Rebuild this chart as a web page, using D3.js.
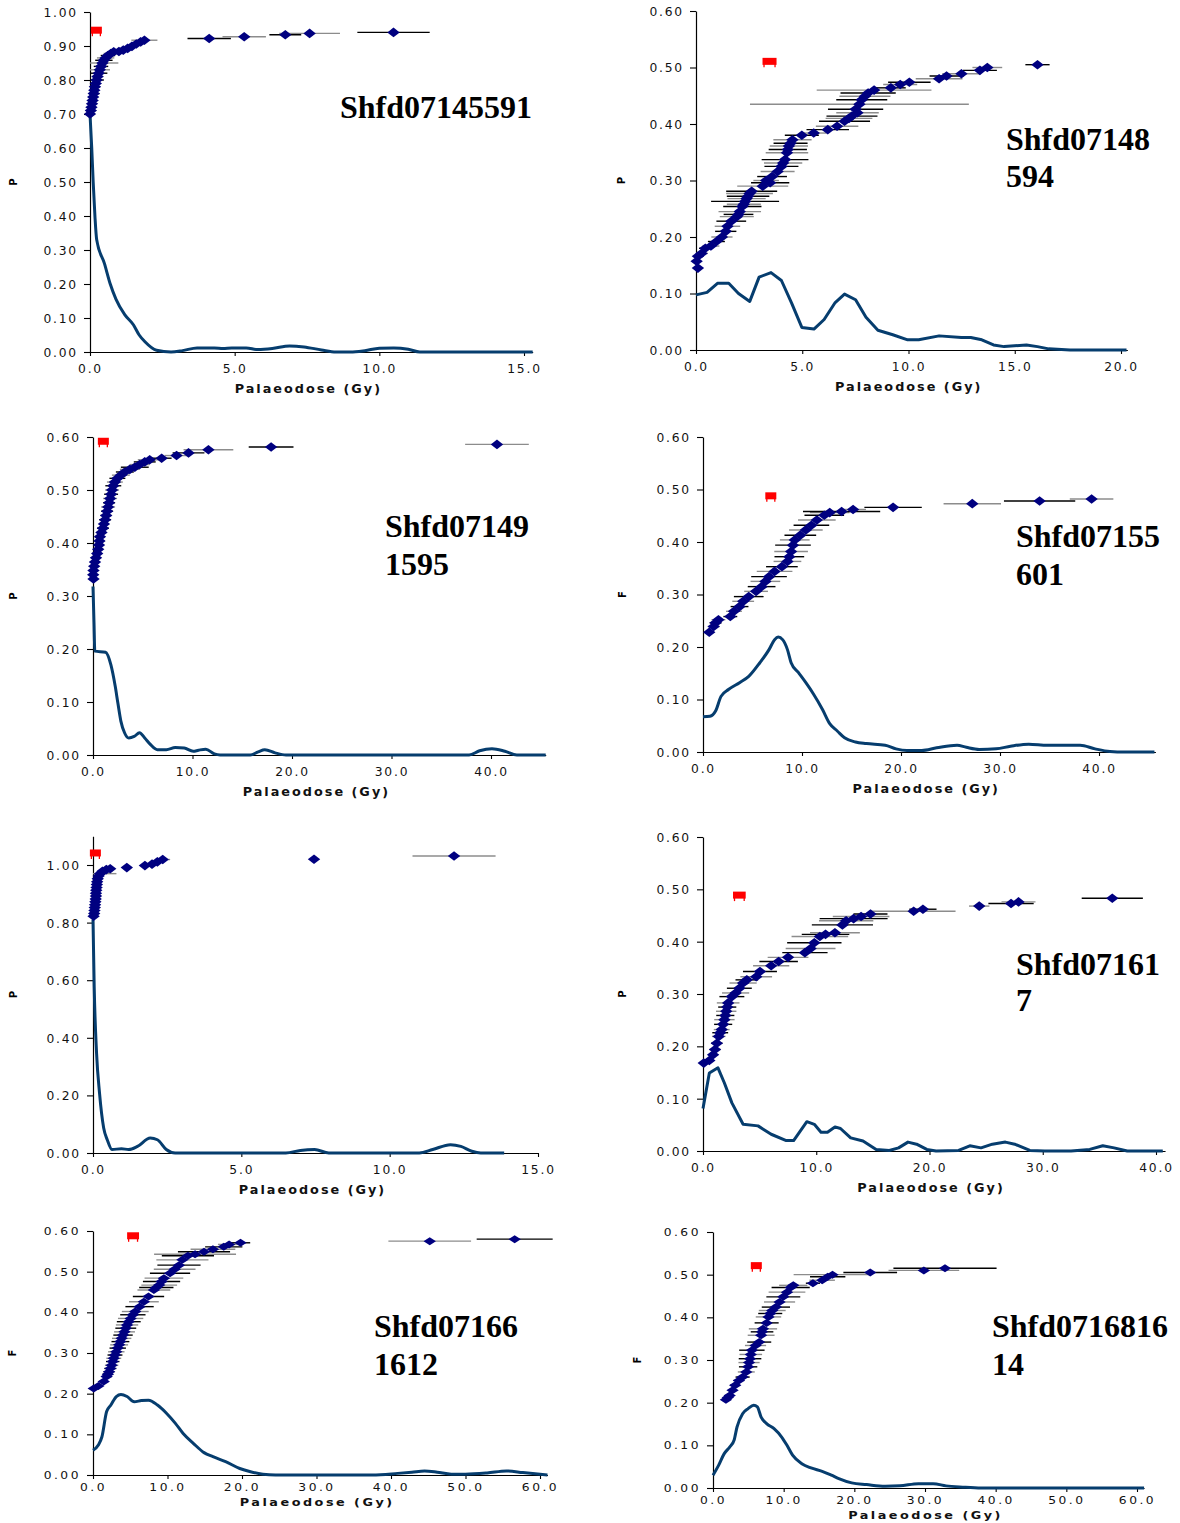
<!DOCTYPE html>
<html><head><meta charset="utf-8">
<script src="https://cdn.jsdelivr.net/npm/d3@7/dist/d3.min.js"></script>
<style>html,body{margin:0;padding:0;background:#fff}svg{display:block}</style>
</head><body>
<svg id="chart" width="1180" height="1523"></svg>
<script>
// ---------------- DATA ----------------
const sampleTitles = [["Shfd07145591"],["Shfd07148","594"],["Shfd07149","1595"],["Shfd07155","601"],[],["Shfd07161","7"],["Shfd07166","1612"],["Shfd0716816","14"]];
const yLabels = ["P","P","P","F","P","P","F","F"];
const xTitle = "Palaeodose (Gy)";

const xTicks1 = [0,5,10,15], xTicks2 = [0,5,10,15,20], xTicks3 = [0,10,20,30,40], xTicks4 = [0,10,20,30,40],
      xTicks5 = [0,5,10,15], xTicks6 = [0,10,20,30,40], xTicks7 = [0,10,20,30,40,50,60], xTicks8 = [0,10,20,30,40,50,60];
const yTicksA = [0,0.1,0.2,0.3,0.4,0.5,0.6,0.7,0.8,0.9,1.0];
const yTicksB = [0,0.1,0.2,0.3,0.4,0.5,0.6];
const yTicksC = [0,0.2,0.4,0.6,0.8,1.0];

// points: [dose (Gy), F, error (Gy)]
const p1Points = [[0.00,0.700,0.05],[0.03,0.710,0.10],[0.05,0.720,0.08],[0.07,0.730,0.12],[0.09,0.740,0.15],[0.11,0.750,0.10],[0.13,0.760,0.20],[0.15,0.770,0.12],[0.17,0.780,0.18],[0.20,0.790,0.15],[0.23,0.800,0.25],[0.26,0.810,0.20],[0.30,0.820,0.30],[0.34,0.830,0.35],[0.38,0.840,0.25],[0.43,0.850,0.55],[0.48,0.858,0.30],[0.54,0.865,0.30],[0.62,0.872,0.25],[0.72,0.878,0.25],[0.82,0.883,0.20],[1.00,0.884,0.10],[1.15,0.888,0.10],[1.30,0.893,0.10],[1.45,0.899,0.10],[1.60,0.906,0.15],[1.75,0.912,0.15],[1.88,0.917,0.45],[4.12,0.922,0.75],[5.33,0.927,0.75],[6.75,0.933,0.55],[7.59,0.937,1.05],[10.49,0.940,1.25]];
const p2Points = [[0.09,0.145,0.10],[0.03,0.157,0.20],[0.09,0.166,0.25],[0.26,0.171,0.30],[0.44,0.180,0.30],[0.70,0.184,0.40],[0.96,0.192,0.40],[1.22,0.200,0.50],[1.40,0.210,0.50],[1.48,0.219,0.60],[1.66,0.228,0.70],[1.92,0.236,0.80],[2.00,0.240,0.70],[2.06,0.245,1.00],[2.18,0.254,0.90],[2.25,0.258,0.80],[2.31,0.263,1.60],[2.38,0.268,0.90],[2.45,0.272,1.00],[2.52,0.277,1.10],[2.62,0.281,1.20],[3.14,0.290,1.20],[3.49,0.296,0.90],[3.30,0.300,0.60],[3.58,0.307,0.70],[3.84,0.316,0.80],[4.02,0.325,0.80],[4.10,0.331,0.90],[4.19,0.337,1.10],[4.28,0.349,1.00],[4.32,0.355,0.90],[4.37,0.361,0.90],[4.45,0.366,0.80],[4.54,0.372,0.90],[4.98,0.380,0.80],[5.54,0.384,0.60],[6.20,0.390,1.00],[6.64,0.396,1.00],[6.99,0.405,1.20],[7.20,0.410,1.10],[7.34,0.414,1.20],[7.60,0.420,1.00],[7.51,0.426,1.30],[7.69,0.435,5.15],[7.80,0.443,1.20],[7.95,0.449,1.20],[8.10,0.455,1.30],[8.38,0.460,2.70],[9.17,0.464,0.70],[9.61,0.470,0.80],[10.04,0.474,1.00],[11.44,0.480,1.10],[11.79,0.485,0.80],[12.49,0.489,0.90],[13.36,0.495,0.80],[13.71,0.500,0.70],[16.07,0.505,0.57]];
const p3Points = [[0.05,0.332,0.2],[0.02,0.340,0.3],[0.05,0.348,0.3],[0.12,0.356,0.4],[0.20,0.364,0.3],[0.30,0.372,0.4],[0.42,0.380,0.4],[0.52,0.388,0.5],[0.60,0.396,0.4],[0.65,0.404,0.5],[0.70,0.412,0.5],[0.85,0.420,0.5],[1.00,0.428,0.6],[1.10,0.436,0.5],[1.22,0.444,0.6],[1.32,0.452,0.6],[1.42,0.460,0.6],[1.52,0.468,0.7],[1.62,0.476,0.6],[1.72,0.484,0.7],[1.82,0.492,0.7],[1.92,0.500,0.7],[2.04,0.508,0.8],[2.20,0.515,0.8],[2.45,0.522,0.8],[2.80,0.528,0.9],[3.20,0.534,0.9],[3.70,0.539,1.0],[4.20,0.543,1.4],[4.70,0.548,1.0],[5.20,0.553,1.1],[5.70,0.557,1.2],[6.90,0.560,1.0],[8.40,0.565,1.2],[9.60,0.570,1.6],[11.60,0.576,2.5],[17.90,0.581,2.25],[40.60,0.586,3.2]];
const p4Points = [[0.63,0.228,0.5],[1.08,0.239,0.6],[1.27,0.246,0.6],[1.56,0.252,0.7],[2.76,0.258,0.7],[3.13,0.268,0.8],[3.69,0.277,0.9],[4.06,0.287,1.1],[4.62,0.296,1.5],[5.36,0.306,1.2],[5.92,0.315,1.4],[6.30,0.325,1.5],[6.67,0.334,1.8],[7.23,0.344,1.8],[7.97,0.353,1.6],[8.53,0.363,1.4],[8.72,0.372,1.5],[8.90,0.382,1.7],[9.09,0.394,1.8],[9.27,0.404,1.5],[9.83,0.413,1.6],[10.39,0.423,1.7],[10.95,0.432,1.8],[11.50,0.442,1.9],[12.25,0.451,2.0],[12.80,0.456,2.0],[14.00,0.458,3.9],[15.16,0.462,1.3],[19.20,0.466,2.9],[27.20,0.473,2.9],[34.00,0.478,3.6],[39.25,0.482,2.2]];
const p5Points = [[0.02,0.822,0.03],[0.04,0.832,0.05],[0.05,0.842,0.04],[0.06,0.852,0.05],[0.07,0.862,0.06],[0.08,0.872,0.05],[0.09,0.882,0.06],[0.10,0.892,0.05],[0.10,0.902,0.07],[0.11,0.912,0.06],[0.12,0.922,0.07],[0.13,0.932,0.06],[0.14,0.942,0.08],[0.16,0.952,0.07],[0.19,0.962,0.10],[0.24,0.970,0.55],[0.32,0.978,0.12],[0.45,0.984,0.12],[0.58,0.987,0.10],[1.14,0.991,0.10],[1.75,0.998,0.10],[1.99,1.003,0.12],[2.17,1.011,0.15],[2.35,1.019,0.25],[7.45,1.020,0.10],[12.17,1.031,1.40]];
const p6Points = [[0.07,0.168,0.2],[0.56,0.173,0.3],[0.89,0.184,0.4],[1.06,0.194,0.5],[1.22,0.206,0.5],[1.39,0.219,0.6],[1.52,0.226,0.7],[1.65,0.232,0.7],[1.78,0.242,0.8],[1.89,0.251,0.9],[1.97,0.259,0.8],[2.05,0.267,0.9],[2.14,0.275,0.8],[2.22,0.283,1.0],[2.55,0.295,1.1],[2.88,0.302,1.2],[3.21,0.311,1.1],[3.54,0.321,1.2],[3.87,0.327,1.0],[4.70,0.333,1.4],[5.03,0.343,1.5],[6.02,0.354,1.6],[6.68,0.362,1.7],[7.51,0.370,1.8],[9.00,0.379,2.0],[9.50,0.387,2.2],[9.83,0.398,2.4],[10.32,0.410,2.5],[10.82,0.414,2.1],[11.65,0.417,2.2],[12.31,0.432,2.7],[12.64,0.440,2.4],[13.30,0.444,3.0],[13.96,0.448,2.5],[14.79,0.453,1.5],[18.60,0.458,3.7],[19.42,0.462,1.2],[24.39,0.468,0.9],[27.20,0.473,2.0],[27.86,0.476,1.5],[36.14,0.483,2.7]];
const p7Points = [[0.10,0.213,0.4],[0.72,0.219,0.5],[1.44,0.230,0.6],[1.83,0.242,0.7],[2.00,0.248,0.7],[2.16,0.254,0.8],[2.33,0.262,0.8],[2.50,0.270,0.9],[2.65,0.279,0.9],[2.79,0.287,1.0],[2.95,0.295,1.0],[3.13,0.303,1.1],[3.32,0.312,1.1],[3.51,0.320,1.2],[3.68,0.328,1.2],[3.85,0.336,1.3],[4.03,0.344,1.3],[4.23,0.352,1.4],[4.40,0.361,1.4],[4.57,0.369,1.5],[4.80,0.377,1.6],[5.05,0.385,1.7],[5.35,0.394,1.7],[5.67,0.402,1.8],[6.25,0.414,1.9],[6.83,0.426,2.0],[7.45,0.439,2.1],[8.17,0.455,2.2],[8.50,0.461,2.3],[8.89,0.467,2.4],[9.20,0.476,2.5],[9.52,0.484,2.6],[10.34,0.496,2.7],[10.96,0.506,2.8],[11.54,0.516,2.9],[12.00,0.529,3.5],[12.74,0.539,3.5],[13.70,0.543,5.5],[14.90,0.549,3.5],[16.10,0.555,3.0],[17.55,0.561,2.5],[18.27,0.567,1.5],[19.80,0.571,1.3],[45.20,0.575,5.55],[56.60,0.580,5.1]];
const p8Points = [[1.83,0.207,0.3],[2.10,0.212,0.4],[2.36,0.217,0.5],[2.77,0.229,0.6],[3.14,0.241,0.7],[3.66,0.252,0.8],[4.19,0.260,1.0],[4.71,0.272,1.2],[4.97,0.284,1.3],[5.10,0.294,1.5],[5.24,0.303,1.6],[5.35,0.313,1.6],[5.50,0.323,1.8],[6.02,0.334,1.5],[6.54,0.342,1.7],[6.81,0.358,1.9],[6.94,0.366,1.6],[7.07,0.373,2.0],[7.59,0.387,1.7],[7.85,0.401,1.8],[8.10,0.409,1.7],[8.38,0.416,1.9],[8.90,0.424,2.0],[9.42,0.436,2.2],[9.95,0.448,2.4],[10.47,0.459,2.6],[10.99,0.470,2.7],[11.36,0.475,2.0],[14.14,0.480,1.0],[15.45,0.487,1.8],[16.23,0.495,2.5],[16.91,0.500,5.5],[22.25,0.505,3.8],[29.84,0.510,5.0],[32.83,0.515,7.3]];

// red markers: [dose, F, error]
const p1Red = [0.22,0.945,0.17], p2Red = [3.46,0.510,0.33], p3Red = [1.04,0.591,0.55], p4Red = [6.85,0.487,0.55],
      p5Red = [0.08,1.040,0.18], p6Red = [3.21,0.488,0.56], p7Red = [5.38,0.587,0.80], p8Red = [6.13,0.520,0.76];

// probability density curves: [dose, P]
const p1Density = [[0,0.70],[0.06,0.60],[0.11,0.50],[0.17,0.40],[0.23,0.331],[0.5,0.26],[0.7,0.20],[0.9,0.155],[1.2,0.11],[1.5,0.08],[1.7,0.05],[1.9,0.03],[2.3,0.005],[2.8,0],[3.2,0.004],[3.7,0.012],[4.3,0.012],[4.6,0.01],[4.9,0.012],[5.4,0.012],[5.8,0.007],[6.3,0.01],[6.9,0.018],[7.4,0.015],[8.0,0.006],[8.5,0],[9.0,0],[9.5,0.004],[10.0,0.011],[10.5,0.012],[11.0,0.008],[11.4,0],[15.3,0]];
const p2Density = [[0,0.0975],[0.52,0.102],[1.01,0.118],[1.54,0.118],[2.0,0.1],[2.53,0.086],[2.97,0.129],[3.53,0.137],[4.02,0.123],[4.5,0.083],[4.98,0.040],[5.55,0.037],[6.03,0.054],[6.55,0.084],[6.99,0.099],[7.51,0.089],[8.0,0.058],[8.56,0.035],[9.26,0.027],[9.96,0.018],[10.48,0.018],[11.44,0.025],[12.49,0.022],[12.93,0.022],[13.45,0.018],[14.0,0.009],[14.5,0.006],[15.55,0.009],[16.07,0.006],[16.6,0.002],[17.6,0],[20.26,0]];
const p3Density = [[0,0.318],[0.1,0.25],[0.18,0.196],[1.26,0.194],[1.8,0.17],[2.23,0.13],[2.5,0.098],[2.8,0.064],[3.17,0.042],[3.6,0.032],[4.14,0.035],[4.68,0.042],[5.2,0.032],[5.76,0.02],[6.47,0.01],[7.37,0.01],[8.27,0.014],[9.17,0.013],[10.07,0.007],[10.6,0.009],[11.33,0.011],[12.2,0.002],[12.77,0],[15.8,0],[16.6,0.006],[17.27,0.01],[18.3,0.004],[19.4,0],[37.8,0],[38.85,0.008],[40.1,0.012],[41.4,0.007],[42.6,0],[45.5,0]];
const p4Density = [[0,0.067],[0.7,0.068],[1.27,0.078],[1.82,0.106],[2.57,0.119],[3.69,0.132],[4.62,0.144],[5.74,0.17],[6.67,0.195],[7.23,0.214],[7.6,0.219],[8.04,0.214],[8.53,0.195],[8.9,0.17],[9.65,0.151],[10.39,0.132],[11.14,0.111],[12.07,0.081],[12.8,0.054],[13.56,0.04],[14.3,0.027],[15.4,0.019],[16.5,0.016],[18.4,0.013],[19.5,0.006],[20.6,0.003],[22.1,0.003],[23.6,0.008],[25.66,0.013],[26.6,0.009],[27.9,0.005],[29.6,0.006],[31.06,0.011],[32.9,0.015],[34.8,0.013],[38.1,0.013],[39.6,0.006],[41.1,0.001],[42.6,0],[45.6,0]];
const p5Density = [[0,0.81],[0.04,0.578],[0.12,0.347],[0.22,0.208],[0.36,0.087],[0.48,0.046],[0.64,0.012],[0.96,0.015],[1.2,0.012],[1.5,0.023],[1.93,0.052],[2.17,0.046],[2.47,0.012],[2.77,0],[6.5,0],[6.99,0.009],[7.47,0.012],[7.95,0],[11.0,0],[11.45,0.012],[12.05,0.029],[12.4,0.023],[12.77,0.006],[13.07,0],[13.86,0]];
const p6Density = [[0,0.081],[0.56,0.149],[1.32,0.159],[1.89,0.13],[2.55,0.092],[3.54,0.051],[4.86,0.048],[6.02,0.032],[7.35,0.02],[8.0,0.02],[9.17,0.056],[9.83,0.051],[10.42,0.036],[10.99,0.036],[11.65,0.046],[12.14,0.043],[13.04,0.025],[14.13,0.019],[15.29,0.003],[16.45,0.001],[17.27,0.006],[18.1,0.017],[18.86,0.013],[19.76,0.003],[20.58,0],[22.57,0.001],[23.56,0.01],[24.55,0.006],[25.55,0.013],[26.7,0.017],[27.53,0.013],[28.86,0.001],[30.18,0],[32.5,0],[34.15,0.003],[35.3,0.01],[36.3,0.006],[37.46,0],[40.6,0]];
const p7Density = [[0,0.061],[0.72,0.074],[1.2,0.094],[1.83,0.156],[2.4,0.172],[3.13,0.193],[3.75,0.198],[4.57,0.193],[5.53,0.18],[6.5,0.183],[7.45,0.184],[8.65,0.172],[9.86,0.152],[11.06,0.127],[12.1,0.102],[13.46,0.078],[14.9,0.055],[16.1,0.045],[17.8,0.033],[19.7,0.016],[21.15,0.008],[22.8,0.002],[24.5,0],[37.5,0],[40.9,0.004],[42.8,0.007],[44.5,0.01],[46.2,0.007],[48.1,0.002],[50,0.002],[52.9,0.005],[55.5,0.01],[57.7,0.006],[61,0]];
const p8Density = [[0,0.03],[0.79,0.053],[1.57,0.08],[2.36,0.096],[2.98,0.112],[3.4,0.143],[4.19,0.174],[4.97,0.186],[5.76,0.194],[6.28,0.19],[6.81,0.166],[7.59,0.151],[8.64,0.139],[9.69,0.12],[10.47,0.1],[11.26,0.077],[12.57,0.057],[13.87,0.047],[15.45,0.039],[16.75,0.03],[17.8,0.022],[19.63,0.012],[21.73,0.008],[24.35,0.004],[26.44,0.005],[29.06,0.01],[31.15,0.01],[32.98,0.005],[35.34,0.002],[37.96,0],[61,0]];

// ---------------- LAYOUT ----------------
const layout = [
  {left:90,  xEnd:15, xEndPx:524,  xMax:15.3, bottom:352,  yEnd:1.0, yEndPx:12,   yMax:1.0, titleX:340,  titleY:[118],       ylabX:14,  sy:1},
  {left:696, xEnd:20, xEndPx:1121, xMax:20.3, bottom:350,  yEnd:0.6, yEndPx:11,   yMax:0.6, titleX:1006, titleY:[150,187],   ylabX:622, sy:1},
  {left:93,  xEnd:40, xEndPx:491,  xMax:45.5, bottom:755,  yEnd:0.6, yEndPx:437,  yMax:0.6, titleX:385,  titleY:[537,575],   ylabX:14,  sy:1},
  {left:703, xEnd:40, xEndPx:1099, xMax:45.7, bottom:752,  yEnd:0.6, yEndPx:437,  yMax:0.6, titleX:1016, titleY:[547,585],   ylabX:623, sy:1},
  {left:93,  xEnd:15, xEndPx:538,  xMax:15.0, bottom:1153, yEnd:1.0, yEndPx:865,  yMax:1.1, titleX:0,    titleY:[],          ylabX:14,  sy:1},
  {left:703, xEnd:40, xEndPx:1156, xMax:40.8, bottom:1151, yEnd:0.6, yEndPx:837,  yMax:0.6, titleX:1016, titleY:[975,1011],  ylabX:623, sy:1},
  {left:93,  xEnd:60, xEndPx:540,  xMax:61,   bottom:1475, yEnd:0.6, yEndPx:1231, yMax:0.6, titleX:374,  titleY:[1337,1375], ylabX:13,  sy:0.8},
  {left:713, xEnd:60, xEndPx:1137, xMax:61,   bottom:1488, yEnd:0.6, yEndPx:1232, yMax:0.6, titleX:992,  titleY:[1337,1375], ylabX:638, sy:0.8}
];
const series = [
  {pts:p1Points, dens:p1Density, red:p1Red, xt:xTicks1, yt:yTicksA, linear:false},
  {pts:p2Points, dens:p2Density, red:p2Red, xt:xTicks2, yt:yTicksB, linear:true},
  {pts:p3Points, dens:p3Density, red:p3Red, xt:xTicks3, yt:yTicksB, linear:false},
  {pts:p4Points, dens:p4Density, red:p4Red, xt:xTicks4, yt:yTicksB, linear:false},
  {pts:p5Points, dens:p5Density, red:p5Red, xt:xTicks5, yt:yTicksC, linear:false},
  {pts:p6Points, dens:p6Density, red:p6Red, xt:xTicks6, yt:yTicksB, linear:true},
  {pts:p7Points, dens:p7Density, red:p7Red, xt:xTicks7, yt:yTicksB, linear:false},
  {pts:p8Points, dens:p8Density, red:p8Red, xt:xTicks8, yt:yTicksB, linear:false}
];

const svg = d3.select("#chart");
svg.append("rect").attr("width",1180).attr("height",1523).attr("fill","#fff");
const TICKFONT = "'DejaVu Sans', Verdana, sans-serif";

layout.forEach((L, i) => {
  const S = series[i];
  const kx = (L.xEndPx - L.left) / L.xEnd;
  const ky = (L.bottom - L.yEndPx) / L.yEnd;
  const x = d3.scaleLinear().domain([0, L.xMax]).range([L.left, L.left + kx * L.xMax]);
  const y = d3.scaleLinear().domain([0, L.yMax]).range([L.bottom, L.bottom - ky * L.yMax]);
  const g = svg.append("g");
  const sy = L.sy;

  // axes
  const ax = g.append("g").attr("transform", `translate(0,${L.bottom})`)
    .call(d3.axisBottom(x).tickValues(S.xt).tickFormat(d3.format(".1f")).tickSize(4).tickSizeOuter(0));
  const ay = g.append("g").attr("transform", `translate(${L.left},0)`)
    .call(d3.axisLeft(y).tickValues(S.yt).tickFormat(d3.format(".2f")).tickSize(6).tickSizeOuter(0));
  [ax, ay].forEach(a => {
    a.select(".domain").attr("stroke", "#000").attr("stroke-width", 1.2);
    a.selectAll(".tick line").attr("stroke", "#000").attr("stroke-width", 1.1);
    a.selectAll("text").attr("font-family", TICKFONT).attr("font-size", 12.3)
      .attr("letter-spacing", sy < 1 ? 2.5 : 1.8).attr("fill", "#111");
  });
  ax.selectAll("text").attr("y", 0).attr("dy", null)
    .attr("transform", `translate(0,${sy < 1 ? 15.5 : 20.5}) scale(1,${sy})`);
  ay.selectAll("text").attr("x", 0).attr("dy", "0.36em")
    .attr("transform", `translate(-12,0) scale(1,${sy})`);

  // y label
  g.append("text").text(yLabels[i])
    .attr("transform", `translate(${L.ylabX + 3},${(L.bottom + y(L.yMax)) / 2}) rotate(-90)`)
    .attr("text-anchor", "middle").attr("font-family", TICKFONT).attr("font-weight", "bold")
    .attr("font-size", 10).attr("fill", "#000");

  // x title
  g.append("text").text(xTitle)
    .attr("transform", `translate(${(L.left + x(L.xMax)) / 2 - 3},${L.bottom + (sy < 1 ? 31 : 41)}) scale(1,${sy})`)
    .attr("text-anchor", "middle").attr("font-family", TICKFONT).attr("font-weight", "bold")
    .attr("font-size", 12.8).attr("letter-spacing", sy < 1 ? 2.5 : 2.0).attr("fill", "#111");

  // density curve
  const line = d3.line().x(d => x(d[0])).y(d => y(d[1]))
    .curve(S.linear ? d3.curveLinear : d3.curveMonotoneX);
  g.append("path").datum(S.dens).attr("d", line).attr("fill", "none")
    .attr("stroke", "#063d6e").attr("stroke-width", 3).attr("stroke-linejoin", "round");

  // error bars
  g.append("g").selectAll("line").data(S.pts).join("line")
    .attr("x1", d => x(Math.max(0, d[0] - d[2]))).attr("x2", d => x(d[0] + d[2]))
    .attr("y1", d => y(d[1])).attr("y2", d => y(d[1]))
    .attr("stroke", (d, j) => j % 2 ? "#8c8c8c" : "#000").attr("stroke-width", 1.4);

  // diamonds
  const hw = 6.2, hh = sy < 1 ? 4.0 : 4.8;
  g.append("g").selectAll("path").data(S.pts).join("path")
    .attr("transform", d => `translate(${x(d[0])},${y(d[1])})`)
    .attr("d", `M0,${-hh}L${hw},0L0,${hh}L${-hw},0Z`).attr("fill", "#000080");

  // red marker
  const r = S.red;
  const rx1 = Math.min(x(r[0] - r[2]), x(r[0]) - 5.5), rx2 = Math.max(x(r[0] + r[2]), x(r[0]) + 5.5);
  g.append("rect").attr("x", rx1).attr("y", y(r[1]) - 4).attr("width", rx2 - rx1).attr("height", 7).attr("fill", "#ff0000");
  g.append("g").selectAll("line").data([rx1 + 1.5, rx2 - 1.5]).join("line")
    .attr("x1", d => d).attr("x2", d => d).attr("y1", y(r[1]) + 2).attr("y2", y(r[1]) + 5.5)
    .attr("stroke", "#ff0000").attr("stroke-width", 1.3);

  // sample title
  sampleTitles[i].forEach((t, k) => {
    g.append("text").text(t).attr("x", L.titleX).attr("y", L.titleY[k])
      .attr("font-family", "'Liberation Serif','Times New Roman',serif").attr("font-weight", "bold")
      .attr("font-size", 32).attr("fill", "#000");
  });
});
</script>
</body></html>
